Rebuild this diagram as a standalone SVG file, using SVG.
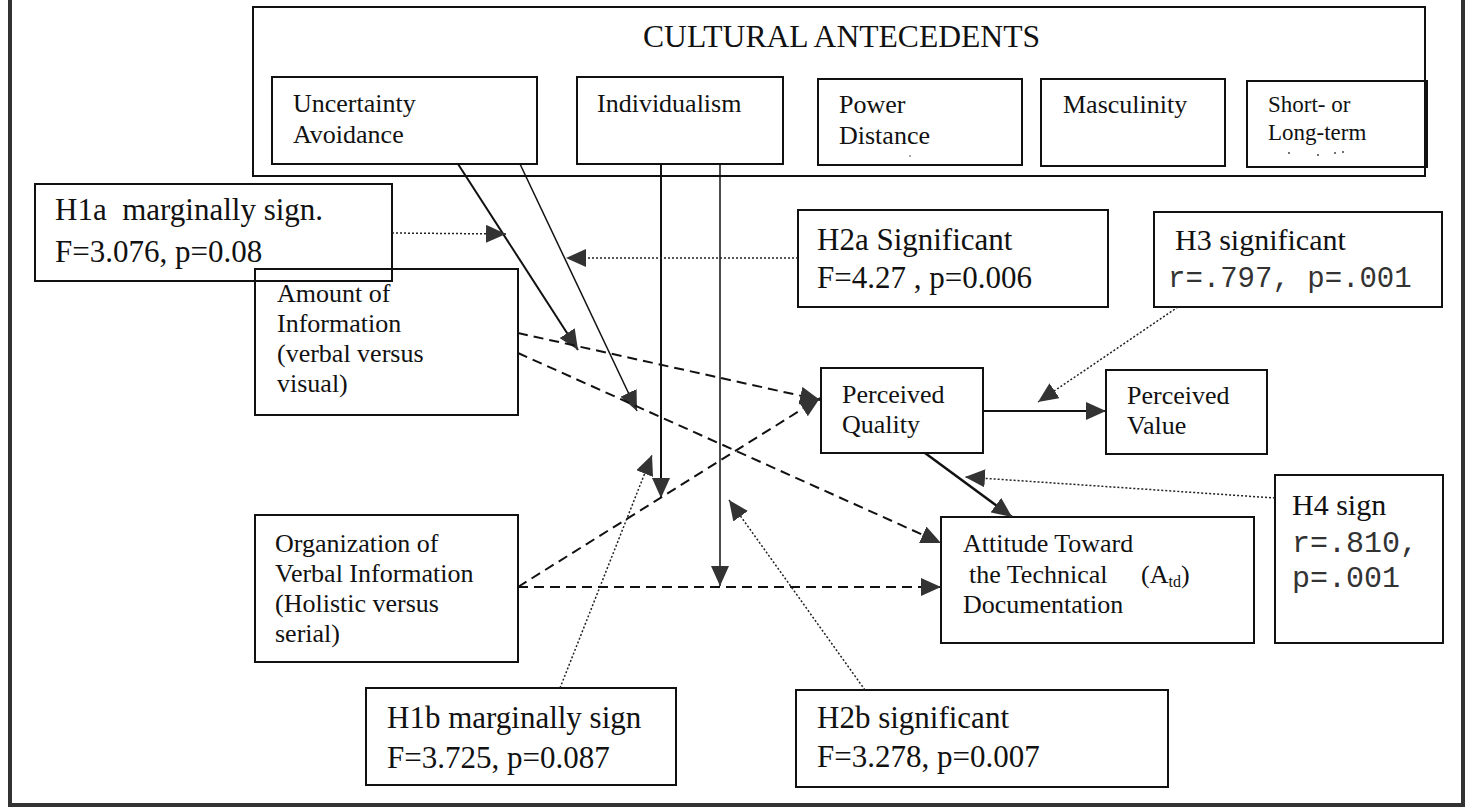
<svg xmlns="http://www.w3.org/2000/svg" width="1470" height="809" viewBox="0 0 1470 809">
<defs>
<marker id="ah" viewBox="0 0 20 18" refX="20" refY="9" markerWidth="20" markerHeight="18" markerUnits="userSpaceOnUse" orient="auto"><path d="M0,0 L20,9 L0,18 Z" fill="#333"/></marker>
</defs>
<style>
.box{fill:none;stroke:#111;stroke-width:2}
.t{font-family:"Liberation Serif","Times New Roman",serif;fill:#111}
.m{font-family:"Liberation Mono","Courier New",monospace;fill:#333}
.s{stroke:#111;fill:none}
.d{stroke:#111;fill:none;stroke-width:2;stroke-dasharray:10 6}
.o{stroke:#222;fill:none;stroke-width:1.5;stroke-dasharray:2 2}
.dot{fill:#444}
</style>
<rect width="1470" height="809" fill="#fff"/>
<g id="frame"><path d="M10,0 V805 H1463 V0" fill="none" stroke="#333" stroke-width="4"/></g>
<g id="cultural"><rect class="box" x="253" y="7" width="1172" height="169"/><text class="t" x="643" y="47" font-size="31" textLength="397" lengthAdjust="spacingAndGlyphs">CULTURAL ANTECEDENTS</text></g>
<g id="ua"><rect class="box" x="272" y="77" width="265" height="87"/><text class="t" font-size="26"><tspan x="293" y="112">Uncertainty</tspan><tspan x="293" y="143">Avoidance</tspan></text></g>
<g id="indiv"><rect class="box" x="577" y="77" width="206" height="87"/><text class="t" font-size="26" x="597" y="112">Individualism</text></g>
<g id="pd"><rect class="box" x="818" y="79" width="204" height="86"/><text class="t" font-size="26"><tspan x="839" y="113">Power</tspan><tspan x="839" y="144">Distance</tspan></text><circle class="dot" cx="910" cy="156" r="0.8"/></g>
<g id="masc"><rect class="box" x="1041" y="79" width="184" height="87"/><text class="t" font-size="26" x="1063" y="113">Masculinity</text></g>
<g id="slt"><rect class="box" x="1247" y="81" width="180" height="86"/><text class="t" font-size="23"><tspan x="1268" y="112">Short- or</tspan><tspan x="1268" y="140">Long-term</tspan></text><circle class="dot" cx="1289" cy="153" r="1"/><circle class="dot" cx="1318" cy="155" r="1"/><circle class="dot" cx="1335" cy="153" r="1"/><circle class="dot" cx="1343" cy="152" r="1"/></g>
<g id="h1a"><rect class="box" x="35" y="184" width="357" height="97"/><text class="t" font-size="31" xml:space="preserve"><tspan x="55" y="220">H1a  marginally sign.</tspan><tspan x="55" y="262">F=3.076, p=0.08</tspan></text></g>
<g id="amount"><rect class="box" x="255" y="269" width="263" height="146"/><text class="t" font-size="26"><tspan x="277" y="302">Amount of</tspan><tspan x="277" y="332">Information</tspan><tspan x="277" y="362">(verbal versus</tspan><tspan x="277" y="392">visual)</tspan></text></g>
<g id="h2a"><rect class="box" x="798" y="210" width="310" height="97"/><text class="t" font-size="31"><tspan x="817" y="250">H2a Significant</tspan><tspan x="817" y="288">F=4.27 , p=0.006</tspan></text></g>
<g id="h3"><rect class="box" x="1154" y="212" width="288" height="95"/><text class="t" font-size="30" x="1175" y="250">H3 significant</text><text class="m" font-size="29" x="1168" y="287">r=.797, p=.001</text></g>
<g id="pq"><rect class="box" x="821" y="368" width="162" height="85"/><text class="t" font-size="26"><tspan x="842" y="403">Perceived</tspan><tspan x="842" y="433">Quality</tspan></text></g>
<g id="pv"><rect class="box" x="1106" y="370" width="161" height="84"/><text class="t" font-size="26"><tspan x="1127" y="404">Perceived</tspan><tspan x="1127" y="434">Value</tspan></text></g>
<g id="org"><rect class="box" x="255" y="515" width="263" height="147"/><text class="t" font-size="26"><tspan x="275" y="552">Organization of</tspan><tspan x="275" y="582">Verbal Information</tspan><tspan x="275" y="612">(Holistic versus</tspan><tspan x="275" y="642">serial)</tspan></text></g>
<g id="att"><rect class="box" x="941" y="517" width="313" height="126"/><text class="t" font-size="26"><tspan x="963" y="552">Attitude Toward</tspan><tspan x="969" y="583">the Technical</tspan><tspan x="1141" y="583">(A</tspan><tspan font-size="16" dy="4">td</tspan><tspan dy="-4">)</tspan><tspan x="963" y="613">Documentation</tspan></text></g>
<g id="h4"><rect class="box" x="1275" y="475" width="168" height="168"/><text class="t" font-size="30" x="1292" y="515">H4 sign</text><text class="m" font-size="30"><tspan x="1292" y="552">r=.810,</tspan><tspan x="1292" y="587">p=.001</tspan></text></g>
<g id="h1b"><rect class="box" x="366" y="688" width="310" height="97"/><text class="t" font-size="31"><tspan x="387" y="728">H1b marginally sign</tspan><tspan x="387" y="768">F=3.725, p=0.087</tspan></text></g>
<g id="h2b"><rect class="box" x="796" y="690" width="372" height="97"/><text class="t" font-size="31"><tspan x="817" y="728">H2b significant</tspan><tspan x="817" y="767">F=3.278, p=0.007</tspan></text></g>
<g id="connectors">
<path class="s" stroke-width="2" d="M458,164 L578,350" marker-end="url(#ah)"/>
<path class="s" stroke-width="1.5" d="M520,164 L637,411" marker-end="url(#ah)"/>
<path class="s" stroke-width="2" d="M661,164 V498" marker-end="url(#ah)"/>
<path class="s" stroke-width="1.5" d="M720,164 V586" marker-end="url(#ah)"/>
<path class="d" d="M518,333 L820,400" marker-end="url(#ah)"/>
<path class="d" d="M518,353 L941,543" marker-end="url(#ah)"/>
<path class="d" d="M518,587 L820,398" marker-end="url(#ah)"/>
<path class="d" d="M518,587 H941" marker-end="url(#ah)"/>
<path class="s" stroke-width="2" d="M983,411 H1106" marker-end="url(#ah)"/>
<path class="s" stroke-width="2.5" d="M925,453 L1012,517" marker-end="url(#ah)"/>
<path class="o" d="M392,233 L506,234" marker-end="url(#ah)"/>
<path class="o" d="M798,258 H566" marker-end="url(#ah)"/>
<path class="o" d="M1178,307 L1038,402" marker-end="url(#ah)"/>
<path class="o" d="M1275,498 L965,477" marker-end="url(#ah)"/>
<path class="o" d="M560,688 L652,455" marker-end="url(#ah)"/>
<path class="o" d="M865,690 L729,500" marker-end="url(#ah)"/>
</g>
</svg>
